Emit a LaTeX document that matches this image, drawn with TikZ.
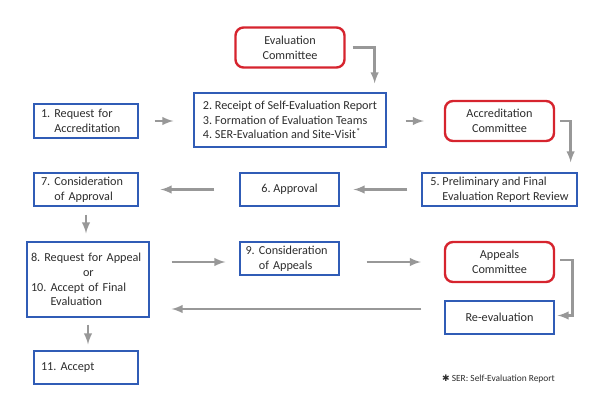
\documentclass[tikz,border=0pt]{standalone}
\usepackage{fontspec}
\setmainfont{Carlito}
\newfontfamily\symfont{DejaVu Sans}
\usepackage{xcolor}
\usetikzlibrary{arrows}
\definecolor{myblue}{RGB}{48,92,182}
\definecolor{myred}{RGB}{214,36,46}
\definecolor{mygray}{RGB}{152,152,152}
\definecolor{mytext}{RGB}{45,45,45}
\frenchspacing

\begin{document}
\begin{tikzpicture}[x=1pt,y=-1pt,
  font=\fontsize{12.2}{14.7}\selectfont,text=mytext,
  stagebox/.style={draw=myblue,line width=1.3pt,inner xsep=7pt,inner ysep=0pt,align=left},
  committee/.style={draw=myred,line width=2.4pt,rounded corners=8pt,align=center,
    minimum width=109pt,minimum height=40pt,inner sep=0pt},
  flow/.style={-latex,line width=2.7pt,color=mygray}]
\useasboundingbox (0,0) rectangle (610,405);

\node[committee] (EC) at (290,47.5) {Evaluation\\Committee};
\node[stagebox,minimum width=192pt,minimum height=54pt,inner xsep=0pt] (B2) at (290,120)
  {2. Receipt of Self-Evaluation Report\\3. Formation of Evaluation Teams\\4. SER-Evaluation and Site-Visit\textsuperscript{*}};
\node[stagebox,text width=90pt,minimum height=34pt] (B1) at (86,121)
  {1. Request for\\\hphantom{1.\ }Accreditation};
\node[committee] (AC) at (499.5,121) {Accreditation\\Committee};

\node[stagebox,minimum width=155pt,inner xsep=0pt,minimum height=33pt] (B5) at (499.5,189.5)
  {5. Preliminary and Final\\\hphantom{5.\ }Evaluation Report Review};
\node[stagebox,align=center,minimum width=99pt,minimum height=33pt] (B6) at (289.5,189.5) {6. Approval};
\node[stagebox,text width=90pt,minimum height=33pt] (B7) at (86,189.5)
  {7. Consideration\\\hphantom{7.\ }of Approval};

\node[stagebox,inner xsep=4pt,text width=114pt,minimum height=75pt] (B8) at (88,279.5)
  {8. Request for Appeal\\\hspace*{52pt}or\\10. Accept of Final\\\hphantom{10.\ }Evaluation};
\node[stagebox,inner xsep=5.5pt,text width=88pt,minimum height=33pt] (B9) at (289.5,258.5)
  {9. Consideration\\\hphantom{9.\ }of Appeals};
\node[committee] (APC) at (499.5,262) {Appeals\\Committee};
\node[stagebox,align=center,minimum width=109pt,minimum height=33pt] (RE) at (499.5,317.5) {Re-evaluation};
\node[stagebox,text width=90pt,minimum height=33pt] (B11) at (86,367.5) {11. Accept};

\node[font=\fontsize{9.4}{11}\selectfont,inner sep=0pt] (note) at (498.5,379)
  {{\symfont\fontsize{9}{9}\selectfont ✱} SER: Self-Evaluation Report};

\draw[flow,shorten <=7pt,shorten >=9pt] (EC.east) -| ([xshift=-12pt]B2.north east);
\draw[flow,shorten <=16pt,shorten >=20pt] (B1.east) -- (B1.east -| B2.west);
\draw[flow,shorten <=19pt,shorten >=20pt] (B2.east |- AC.west) -- (AC.west);
\draw[flow,shorten <=5pt,shorten >=10pt] (AC.east) -| ([xshift=-7pt]B5.north east);
\draw[flow,shorten <=14pt,shorten >=14pt] (B5.west) -- (B6.east);
\draw[flow,shorten <=25pt,shorten >=22pt] (B6.west) -- (B7.east);
\draw[flow,shorten <=8pt,shorten >=8pt] (B7.south) -- (B7.south |- B8.north);
\draw[flow,shorten <=22pt,shorten >=14pt] (APC.west -| B8.east) -- (APC.west -| B9.west);
\draw[flow,shorten <=27pt,shorten >=23pt] (APC.west -| B9.east) -- (APC.west);
\draw[flow,shorten <=5pt,shorten >=3pt] ([yshift=2pt]APC.east) -- ++(17,0) |- ([yshift=2pt]RE.east);
\draw[flow,shorten <=23pt,shorten >=22pt] ([yshift=8.5pt]RE.west) -- ([yshift=8.5pt]RE.west -| B8.east);
\draw[flow,shorten <=7pt,shorten >=6pt] (B8.south) -- (B8.south |- B11.north);

\end{tikzpicture}
\end{document}
